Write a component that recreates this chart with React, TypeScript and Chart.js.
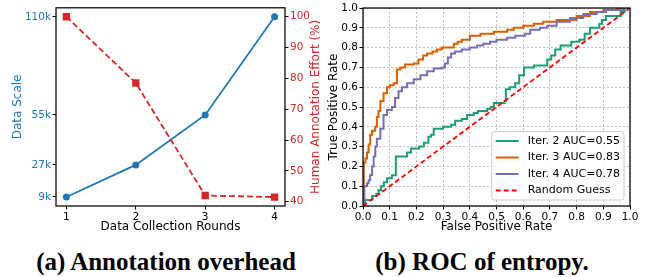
import React, { useEffect, useRef } from 'react';
import { Chart, registerables } from 'chart.js';

Chart.register(...registerables);

// ---------- (a) Annotation overhead ----------
const rounds = [1, 2, 3, 4];
const dataScaleK = [9, 27, 55, 110];
const annotationEffort = [100, 78.5, 42, 41.5];
const dataScaleTicks = [9, 27, 55, 110];
const effortTicks = [40, 50, 60, 70, 80, 90, 100];

// ---------- (b) ROC of entropy ----------
const iter2Fpr = [0, 0.008, 0.034, 0.05, 0.058, 0.068, 0.078, 0.09, 0.108, 0.123, 0.165, 0.18, 0.21, 0.228, 0.245, 0.255, 0.265, 0.3, 0.33, 0.345, 0.37, 0.39, 0.415, 0.43, 0.465, 0.478, 0.49, 0.53, 0.535, 0.55, 0.57, 0.585, 0.603, 0.64, 0.69, 0.705, 0.72, 0.74, 0.78, 0.81, 0.83, 0.85, 0.885, 0.895, 0.91, 0.965, 0.98, 1];
const iter2Tpr = [0, 0.03, 0.05, 0.06, 0.08, 0.1, 0.12, 0.14, 0.155, 0.25, 0.27, 0.29, 0.3, 0.32, 0.35, 0.36, 0.39, 0.4, 0.41, 0.43, 0.44, 0.46, 0.47, 0.48, 0.49, 0.5, 0.52, 0.53, 0.59, 0.6, 0.62, 0.66, 0.7, 0.71, 0.74, 0.76, 0.79, 0.81, 0.83, 0.84, 0.87, 0.9, 0.92, 0.94, 0.96, 0.98, 1.0, 1.0];

const iter3Fpr = [0, 0.003, 0.009, 0.015, 0.021, 0.027, 0.034, 0.046, 0.052, 0.058, 0.065, 0.077, 0.09, 0.1, 0.115, 0.127, 0.14, 0.158, 0.19, 0.208, 0.225, 0.24, 0.26, 0.277, 0.295, 0.34, 0.355, 0.37, 0.4, 0.44, 0.49, 0.54, 0.565, 0.6, 0.64, 0.675, 0.725, 0.8, 0.85, 0.9, 0.95, 1];
const iter3Tpr = [0, 0.22, 0.24, 0.27, 0.31, 0.36, 0.38, 0.4, 0.45, 0.48, 0.53, 0.57, 0.6, 0.61, 0.62, 0.69, 0.7, 0.715, 0.72, 0.74, 0.76, 0.77, 0.78, 0.79, 0.8, 0.82, 0.83, 0.84, 0.86, 0.87, 0.88, 0.89, 0.9, 0.91, 0.92, 0.93, 0.94, 0.96, 0.98, 0.99, 1.0, 1.0];

const iter4Fpr = [0, 0.005, 0.015, 0.021, 0.027, 0.034, 0.04, 0.046, 0.052, 0.065, 0.077, 0.09, 0.108, 0.12, 0.133, 0.146, 0.165, 0.19, 0.215, 0.24, 0.265, 0.295, 0.307, 0.318, 0.33, 0.345, 0.37, 0.4, 0.427, 0.45, 0.476, 0.5, 0.54, 0.57, 0.607, 0.626, 0.663, 0.69, 0.725, 0.775, 0.825, 0.875, 0.91, 0.975, 1];
const iter4Tpr = [0, 0.1, 0.115, 0.13, 0.157, 0.2, 0.25, 0.3, 0.34, 0.39, 0.46, 0.485, 0.5, 0.545, 0.58, 0.6, 0.62, 0.64, 0.66, 0.68, 0.695, 0.7, 0.72, 0.75, 0.77, 0.78, 0.79, 0.8, 0.81, 0.82, 0.83, 0.84, 0.85, 0.86, 0.87, 0.89, 0.9, 0.91, 0.93, 0.95, 0.97, 0.98, 0.99, 1.0, 1.0];

const guessFpr = [0, 1];
const guessTpr = [0, 1];

const rocTicks = [0, 0.1, 0.2, 0.3, 0.4, 0.5, 0.6, 0.7, 0.8, 0.9, 1.0];
const legendLabels = ['Iter. 2 AUC=0.55', 'Iter. 3 AUC=0.83', 'Iter. 4 AUC=0.78', 'Random Guess'];

const FONT = "'DejaVu Sans'";

const pts = (xs: number[], ys: number[]) => xs.map((x, i) => ({ x, y: ys[i] }));

const framePlugin = {
  id: 'frame',
  afterDatasetsDraw(chart: any) {
    const { ctx, chartArea } = chart;
    const { left, top, right, bottom } = chartArea;
    ctx.save();
    ctx.strokeStyle = '#000';
    ctx.lineWidth = 1.25;
    ctx.setLineDash([]);
    ctx.strokeRect(left, top, right - left, bottom - top);
    ctx.restore();
  },
};

const rightTitlePlugin = {
  id: 'rightTitle',
  afterDraw(chart: any) {
    const { ctx, chartArea } = chart;
    ctx.save();
    ctx.translate(316, (chartArea.top + chartArea.bottom) / 2);
    ctx.rotate(-Math.PI / 2);
    ctx.font = `12px ${FONT}`;
    ctx.fillStyle = '#d62728';
    ctx.textAlign = 'center';
    ctx.textBaseline = 'middle';
    ctx.fillText('Human Annotation Effort (%)', 0, 0);
    ctx.restore();
  },
};

const rocLegendPlugin = {
  id: 'rocLegend',
  afterDraw(chart: any) {
    const { ctx, chartArea } = chart;
    const ds = chart.data.datasets;
    ctx.save();
    ctx.font = `11px ${FONT}`;
    const textW = Math.max(...ds.map((d: any) => ctx.measureText(d.label).width));
    const w = 36 + textW + 4;
    const h = 68.5;
    const x = chartArea.right - 6 - w;
    const y = chartArea.bottom - 6 - h;
    ctx.beginPath();
    ctx.roundRect(x, y, w, h, 3);
    ctx.fillStyle = 'rgba(255,255,255,0.85)';
    ctx.fill();
    ctx.strokeStyle = '#cccccc';
    ctx.lineWidth = 1;
    ctx.stroke();
    ds.forEach((d: any, i: number) => {
      const cy = y + 9.5 + i * 16.5;
      ctx.beginPath();
      ctx.setLineDash(d.borderDash || []);
      ctx.strokeStyle = d.borderColor;
      ctx.lineWidth = d.borderWidth;
      ctx.moveTo(x + 4, cy);
      ctx.lineTo(x + 27, cy);
      ctx.stroke();
      ctx.setLineDash([]);
      ctx.fillStyle = '#000';
      ctx.textBaseline = 'middle';
      ctx.textAlign = 'left';
      ctx.fillText(d.label, x + 36, cy);
    });
    ctx.restore();
  },
};

const tickOpts = (color: string, cb?: (v: number) => string) => ({
  color,
  font: { family: FONT, size: 10.5 },
  padding: 1.5,
  maxRotation: 0,
  autoSkip: false,
  ...(cb ? { callback: (v: any) => cb(Number(v)) } : {}),
});

const plainGrid = {
  drawOnChartArea: false,
  drawTicks: true,
  tickLength: 3.5,
  tickColor: '#000',
  tickWidth: 1,
  tickBorderDash: [],
};

export default function App() {
  const leftRef = useRef<HTMLCanvasElement>(null);
  const rightRef = useRef<HTMLCanvasElement>(null);

  useEffect(() => {
    const left = new Chart(leftRef.current!, {
      type: 'line',
      data: {
        datasets: [
          {
            label: 'Human Annotation Effort (%)',
            data: pts(rounds, annotationEffort),
            yAxisID: 'yR',
            borderColor: '#d62728',
            backgroundColor: '#d62728',
            borderWidth: 1.8,
            borderDash: [6, 3],
            pointStyle: 'rect',
            pointRadius: 5.2,
            pointBorderWidth: 0,
            order: 1,
          },
          {
            label: 'Data Scale',
            data: pts(rounds, dataScaleK),
            yAxisID: 'yL',
            borderColor: '#1f77b4',
            backgroundColor: '#1f77b4',
            borderWidth: 1.8,
            pointStyle: 'circle',
            pointRadius: 3.5,
            pointBorderWidth: 0,
            order: 2,
          },
        ],
      },
      options: {
        responsive: false,
        animation: false,
        layout: { padding: { top: 5, left: 0, right: 0, bottom: 0 } },
        plugins: { legend: { display: false }, tooltip: { enabled: false } },
        scales: {
          x: {
            type: 'linear',
            min: 0.85,
            max: 4.15,
            afterBuildTicks: (s: any) => { s.ticks = rounds.map((v) => ({ value: v })); },
            afterFit: (s: any) => { s.height = 34; },
            ticks: tickOpts('#000', (v) => String(v)),
            grid: plainGrid,
            border: { display: false },
            title: { display: true, text: 'Data Collection Rounds', color: '#000', font: { family: FONT, size: 12 }, padding: { top: 0, bottom: 5.8 } },
          },
          yL: {
            type: 'linear',
            position: 'left',
            min: 3.95,
            max: 115.05,
            afterBuildTicks: (s: any) => { s.ticks = dataScaleTicks.map((v) => ({ value: v })); },
            afterFit: (s: any) => { s.width = 56; },
            ticks: tickOpts('#1f77b4', (v) => `${v}k`),
            grid: plainGrid,
            border: { display: false },
            title: { display: true, text: 'Data Scale', color: '#1f77b4', font: { family: FONT, size: 12 }, padding: { top: 10.8, bottom: 0 } },
          },
          yR: {
            type: 'linear',
            position: 'right',
            min: 38.6,
            max: 102.9,
            afterBuildTicks: (s: any) => { s.ticks = effortTicks.map((v) => ({ value: v })); },
            afterFit: (s: any) => { s.width = 37; },
            ticks: tickOpts('#d62728', (v) => String(v)),
            grid: plainGrid,
            border: { display: false },
            title: { display: false },
          },
        },
      },
      plugins: [framePlugin, rightTitlePlugin],
    } as any);

    const rocGrid = {
      drawOnChartArea: true,
      color: '#b0b0b0',
      lineWidth: 0.8,
      drawTicks: true,
      tickLength: 3.5,
      tickColor: '#000',
      tickWidth: 1,
      tickBorderDash: [],
    };

    const right = new Chart(rightRef.current!, {
      type: 'line',
      data: {
        datasets: [
          { label: legendLabels[0], data: pts(iter2Fpr, iter2Tpr), borderColor: '#1b9e77', borderWidth: 2, stepped: true, pointRadius: 0, order: 4 },
          { label: legendLabels[1], data: pts(iter3Fpr, iter3Tpr), borderColor: '#d95f02', borderWidth: 2, stepped: true, pointRadius: 0, order: 3 },
          { label: legendLabels[2], data: pts(iter4Fpr, iter4Tpr), borderColor: '#7570b3', borderWidth: 2, stepped: true, pointRadius: 0, order: 2 },
          { label: legendLabels[3], data: pts(guessFpr, guessTpr), borderColor: '#ff0000', borderWidth: 1.8, borderDash: [5, 3], pointRadius: 0, order: 1 },
        ],
      },
      options: {
        responsive: false,
        animation: false,
        layout: { padding: { top: 8, left: 0, right: 22, bottom: 0 } },
        plugins: { legend: { display: false }, tooltip: { enabled: false } },
        scales: {
          x: {
            type: 'linear',
            min: 0,
            max: 1,
            afterBuildTicks: (s: any) => { s.ticks = rocTicks.map((v) => ({ value: v })); },
            afterFit: (s: any) => { s.height = 34; },
            ticks: tickOpts('#000', (v) => v.toFixed(1)),
            grid: rocGrid,
            border: { display: false, dash: [2, 2] },
            title: { display: true, text: 'False Positive Rate', color: '#000', font: { family: FONT, size: 12 }, padding: { top: 0, bottom: 5.8 } },
          },
          y: {
            type: 'linear',
            min: 0,
            max: 1,
            afterBuildTicks: (s: any) => { s.ticks = rocTicks.map((v) => ({ value: v })); },
            afterFit: (s: any) => { s.width = 41; },
            ticks: tickOpts('#000', (v) => v.toFixed(1)),
            grid: rocGrid,
            border: { display: false, dash: [2, 2] },
            title: { display: true, text: 'True Positive Rate', color: '#000', font: { family: FONT, size: 12 }, padding: { top: 4.8, bottom: 0 } },
          },
        },
      },
      plugins: [framePlugin, rocLegendPlugin],
    } as any);

    return () => {
      left.destroy();
      right.destroy();
    };
  }, []);

  const captionStyle: React.CSSProperties = {
    position: 'absolute',
    top: 248,
    fontFamily: "'Liberation Serif', serif",
    fontWeight: 700,
    fontSize: 25,
    lineHeight: '28px',
    whiteSpace: 'nowrap',
    transform: 'translateX(-50%)',
    color: '#000',
  };

  return (
    <div style={{ position: 'fixed', left: 0, top: 0, width: 652, height: 277, background: '#fff', overflow: 'hidden' }}>
      <canvas ref={leftRef} width={322} height={240} style={{ position: 'absolute', left: 0, top: 0, width: 322, height: 240 }} />
      <canvas ref={rightRef} width={330} height={240} style={{ position: 'absolute', left: 322, top: 0, width: 330, height: 240 }} />
      <div style={{ ...captionStyle, left: 166 }}>(a) Annotation overhead</div>
      <div style={{ ...captionStyle, left: 482 }}>(b) ROC of entropy.</div>
    </div>
  );
}
